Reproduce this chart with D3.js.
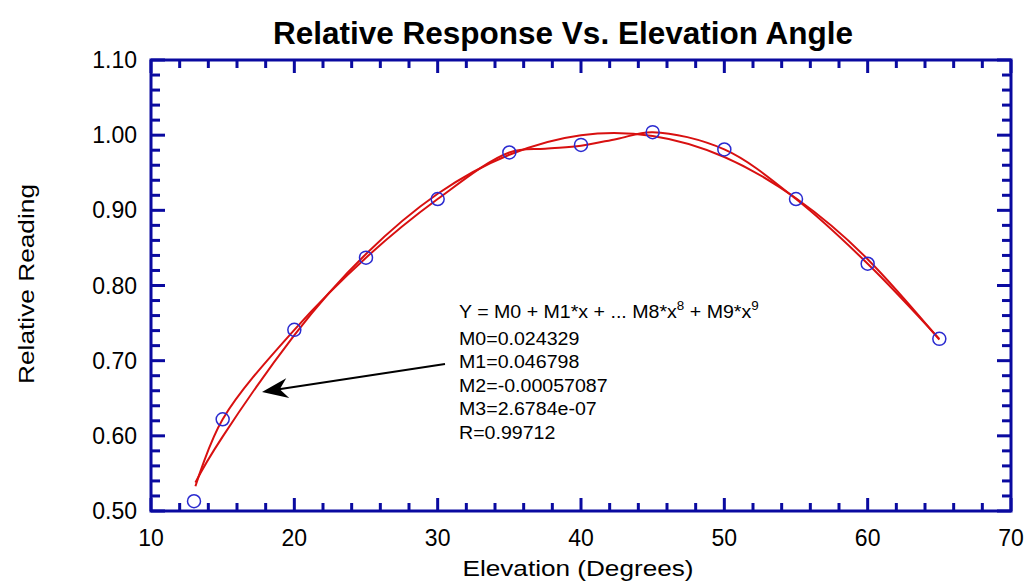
<!DOCTYPE html>
<html>
<head>
<meta charset="utf-8">
<script src="https://cdn.jsdelivr.net/npm/d3@7"></script>
<style>
  body { margin: 0; background: #fff; }
  svg { display: block; font-family: "Liberation Sans", Arial, sans-serif; }
</style>
</head>
<body>
<svg id="chart" width="1026" height="582"></svg>
<script>
// data
const elevation = [13, 15, 20, 25, 30, 35, 40, 45, 50, 55, 60, 65];
const reading = [0.513, 0.622, 0.741, 0.837, 0.915, 0.977, 0.987, 1.004, 0.981, 0.915, 0.829, 0.729];

// smooth curve through the points (second red line)
const smoothX = [13.1, 15, 20, 25, 30, 35, 37.5, 40, 42.5, 45, 50, 55, 60, 65];
const smoothY = [0.533, 0.622, 0.741, 0.837, 0.915, 0.977, 0.982, 0.986, 0.995, 1.004, 0.981, 0.915, 0.829, 0.729];

// cubic fit line
const fitX = [13.1, 15, 20, 25, 30, 35, 40, 45, 50, 55, 60, 65];
const fitY = [0.538, 0.599, 0.734, 0.842, 0.922, 0.974, 1.000, 0.999, 0.971, 0.916, 0.835, 0.728];

const xTicks = [10, 20, 30, 40, 50, 60, 70];
const yTicks = [0.5, 0.6, 0.7, 0.8, 0.9, 1.0, 1.1];

const fitText = [
  "M0=0.024329",
  "M1=0.046798",
  "M2=-0.00057087",
  "M3=2.6784e-07",
  "R=0.99712"
];

const axisColor = "#0a0aa0";
const margin = { left: 151, right: 15, top: 60, bottom: 71 };
const width = 1026, height = 582;

const svg = d3.select("#chart");

const x = d3.scaleLinear().domain([10, 70]).range([margin.left, width - margin.right]);
const y = d3.scaleLinear().domain([0.5, 1.1]).range([height - margin.bottom, margin.top]);

// title
svg.append("text")
  .attr("x", 563).attr("y", 44)
  .attr("text-anchor", "middle")
  .attr("font-size", 31).attr("font-weight", "bold")
  .attr("textLength", 580).attr("lengthAdjust", "spacingAndGlyphs")
  .text("Relative Response Vs. Elevation Angle");

// ticks on all four sides, pointing inward
const xMinor = d3.range(10, 70.01, 2);
const yMinor = d3.range(0.5, 1.101, 0.02);
const isMajorX = v => Math.abs(v / 10 - Math.round(v / 10)) < 1e-6;
const isMajorY = v => Math.abs(v * 10 - Math.round(v * 10)) < 1e-6;

const ticks = svg.append("g").attr("stroke", axisColor).attr("stroke-width", 3);
xMinor.forEach(v => {
  const len = isMajorX(v) ? 13 : 8;
  ticks.append("line").attr("x1", x(v)).attr("x2", x(v))
    .attr("y1", y(0.5)).attr("y2", y(0.5) - len);
  ticks.append("line").attr("x1", x(v)).attr("x2", x(v))
    .attr("y1", y(1.1)).attr("y2", y(1.1) + len);
});
yMinor.forEach(v => {
  const len = isMajorY(v) ? 14 : 9;
  ticks.append("line").attr("y1", y(v)).attr("y2", y(v))
    .attr("x1", x(10)).attr("x2", x(10) + len);
  ticks.append("line").attr("y1", y(v)).attr("y2", y(v))
    .attr("x1", x(70)).attr("x2", x(70) - len);
});

// frame
svg.append("rect")
  .attr("x", x(10)).attr("y", y(1.1))
  .attr("width", x(70) - x(10)).attr("height", y(0.5) - y(1.1))
  .attr("fill", "none").attr("stroke", axisColor).attr("stroke-width", 3);

// tick labels
svg.append("g").selectAll("text").data(xTicks).join("text")
  .attr("x", d => x(d)).attr("y", y(0.5) + 35)
  .attr("text-anchor", "middle").attr("font-size", 23)
  .text(d => d);

svg.append("g").selectAll("text").data(yTicks).join("text")
  .attr("x", x(10) - 14).attr("y", d => y(d) + 8)
  .attr("text-anchor", "end").attr("font-size", 23)
  .text(d => d3.format(".2f")(d));

// axis titles
svg.append("text")
  .attr("x", 578).attr("y", 576)
  .attr("text-anchor", "middle").attr("font-size", 22)
  .attr("textLength", 231).attr("lengthAdjust", "spacingAndGlyphs")
  .text("Elevation (Degrees)");

svg.append("text")
  .attr("transform", "translate(34,284) rotate(-90)")
  .attr("text-anchor", "middle").attr("font-size", 22)
  .attr("textLength", 200).attr("lengthAdjust", "spacingAndGlyphs")
  .text("Relative Reading");

// curves
const line = d3.line().curve(d3.curveNatural);
svg.append("path")
  .attr("d", line(fitX.map((v, i) => [x(v), y(fitY[i])])))
  .attr("fill", "none").attr("stroke", "#d81010").attr("stroke-width", 2);
svg.append("path")
  .attr("d", d3.line().curve(d3.curveCatmullRom)(smoothX.map((v, i) => [x(v), y(smoothY[i])])))
  .attr("fill", "none").attr("stroke", "#d81010").attr("stroke-width", 2);

// data points
svg.append("g").selectAll("circle").data(elevation).join("circle")
  .attr("cx", d => x(d)).attr("cy", (d, i) => y(reading[i]))
  .attr("r", 6.5)
  .attr("fill", "none").attr("stroke", "#2a2ad0").attr("stroke-width", 1.5);

// annotation (text is a bit wider than the plain font)
const note = svg.append("g")
  .attr("transform", "translate(459,0) scale(1.12,1)")
  .attr("font-size", 17.5);
const eq = note.append("text").attr("x", 0).attr("y", 318);
eq.append("tspan").text("Y = M0 + M1*x + ... M8*x");
eq.append("tspan").attr("dy", -8).attr("font-size", 12).text("8");
eq.append("tspan").attr("dy", 8).text(" + M9*x");
eq.append("tspan").attr("dy", -8).attr("font-size", 12).text("9");
note.selectAll("text.m").data(fitText).join("text")
  .attr("class", "m")
  .attr("x", 0).attr("y", (d, i) => 345 + i * 23.5)
  .text(d => d);

// arrow
const tail = [445, 364], tip = [262, 392];
svg.append("line")
  .attr("x1", tail[0]).attr("y1", tail[1])
  .attr("x2", tip[0] + 12).attr("y2", tip[1] - 2)
  .attr("stroke", "#000").attr("stroke-width", 2);
const ang = Math.atan2(tip[1] - tail[1], tip[0] - tail[0]);
const head = [[0, 0], [-26, -10], [-18, 0], [-26, 10]];
svg.append("path")
  .attr("d", d3.line()(head) + "Z")
  .attr("transform", `translate(${tip[0]},${tip[1]}) rotate(${ang * 180 / Math.PI})`)
  .attr("fill", "#000");
</script>
</body>
</html>
